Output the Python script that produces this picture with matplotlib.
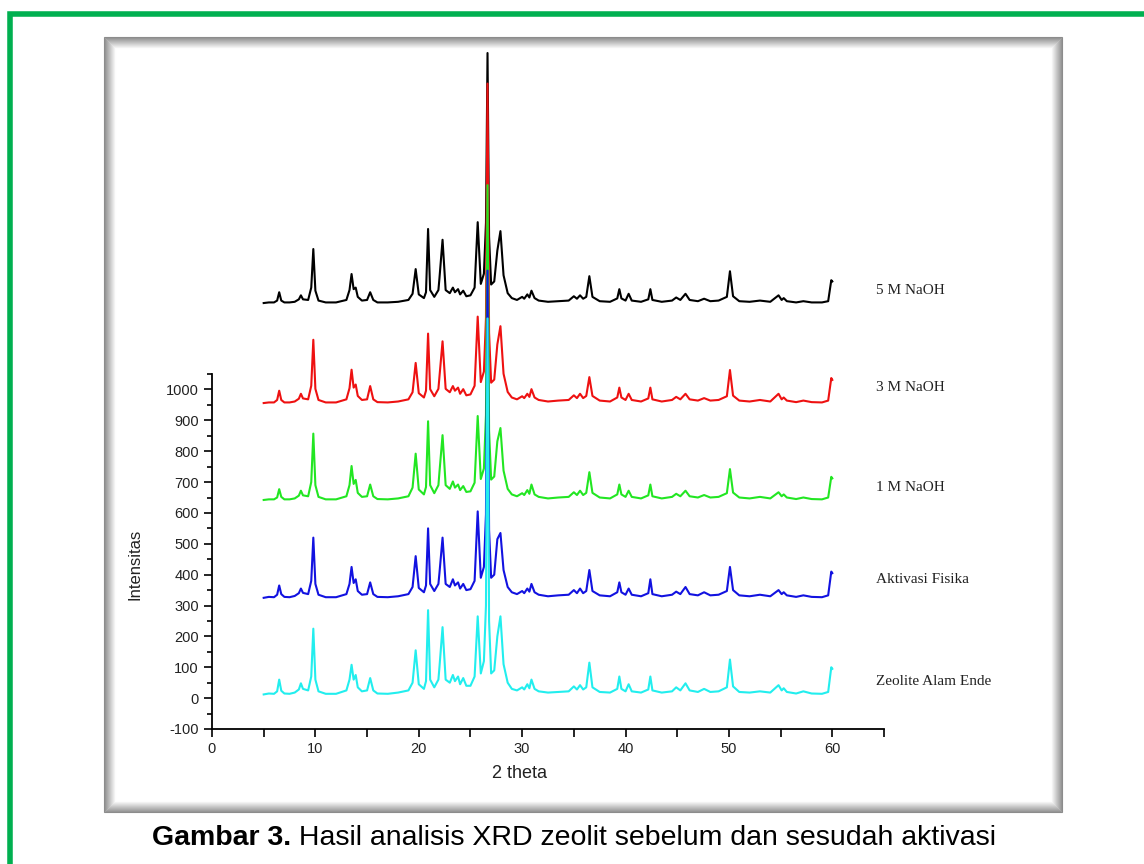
import matplotlib
matplotlib.use('Agg')
import matplotlib.pyplot as plt
from matplotlib.patches import Rectangle
from matplotlib.ticker import FixedLocator

plt.rcParams['axes.unicode_minus'] = False

# 2 theta positions (shared by all patterns)
theta = [5.0, 5.5, 6.0, 6.3, 6.5, 6.7, 7.0, 7.5, 8.0, 8.4,
         8.6, 8.8, 9.3, 9.6, 9.8, 10.0, 10.3, 11.0, 12.0, 13.0,
         13.3, 13.5, 13.7, 13.9, 14.1, 14.5, 15.0, 15.3, 15.6, 16.0,
         17.0, 18.0, 19.0, 19.4, 19.7, 20.0, 20.5, 20.7, 20.9, 21.1,
         21.5, 21.9, 22.0, 22.3, 22.6, 23.0, 23.3, 23.5, 23.8, 24.0,
         24.3, 24.6, 25.0, 25.4, 25.7, 26.0, 26.3, 26.5, 26.65, 26.8,
         27.0, 27.3, 27.6, 27.9, 28.2, 28.6, 29.0, 29.5, 30.0, 30.2,
         30.5, 30.7, 30.9, 31.2, 31.6, 32.5, 33.5, 34.5, 35.0, 35.3,
         35.6, 35.9, 36.2, 36.5, 36.8, 37.5, 38.5, 39.2, 39.4, 39.6,
         40.0, 40.3, 40.6, 41.5, 42.2, 42.4, 42.6, 43.5, 44.5, 44.9,
         45.3, 45.8, 46.2, 47.0, 47.6, 48.2, 49.0, 49.8, 50.1, 50.4,
         51.0, 52.0, 53.0, 54.0, 54.8, 55.1, 55.3, 55.6, 56.5, 57.2,
         58.0, 59.0, 59.6, 59.9, 60.0]

# intensities above each pattern's own baseline
zeolite_alam = [12, 15, 14, 22, 60, 24, 15, 14, 18, 28,
                48, 30, 25, 70, 225, 60, 22, 14, 14, 25,
                60, 108, 60, 75, 35, 22, 25, 65, 25, 15,
                14, 18, 25, 50, 155, 45, 30, 55, 285, 60,
                35, 60, 100, 230, 60, 50, 75, 55, 70, 45,
                65, 40, 40, 70, 265, 80, 120, 300, 1230, 250,
                80, 90, 200, 265, 110, 50, 30, 25, 35, 28,
                45, 32, 60, 30, 22, 18, 20, 22, 38, 28,
                42, 28, 35, 115, 35, 20, 18, 30, 70, 30,
                22, 45, 22, 18, 28, 70, 25, 18, 22, 35,
                25, 48, 25, 20, 30, 20, 22, 35, 125, 38,
                20, 18, 22, 18, 42, 25, 32, 20, 15, 22,
                15, 14, 20, 100, 95]

aktivasi_fisika = [10, 13, 12, 20, 50, 22, 13, 12, 16, 25,
                   40, 26, 22, 65, 205, 55, 20, 12, 12, 22,
                   55, 110, 58, 70, 32, 20, 22, 60, 22, 13,
                   12, 15, 22, 45, 145, 42, 28, 50, 235, 55,
                   32, 55, 90, 205, 55, 45, 70, 50, 60, 40,
                   55, 35, 38, 65, 290, 75, 110, 280, 1070, 230,
                   75, 85, 200, 220, 100, 45, 28, 22, 32, 25,
                   40, 30, 55, 28, 20, 15, 18, 20, 35, 25,
                   40, 25, 32, 100, 32, 18, 15, 28, 60, 28,
                   20, 40, 20, 15, 25, 70, 22, 15, 20, 30,
                   22, 45, 22, 18, 28, 18, 20, 32, 110, 35,
                   18, 15, 20, 15, 35, 22, 28, 18, 13, 18,
                   13, 12, 18, 95, 90]

naoh_1m = [10, 12, 12, 18, 45, 20, 12, 12, 15, 24,
           40, 25, 22, 68, 225, 58, 20, 12, 12, 22,
           58, 120, 62, 75, 33, 20, 22, 60, 22, 13,
           12, 15, 22, 50, 160, 44, 28, 52, 265, 58,
           32, 58, 100, 220, 58, 46, 70, 50, 60, 42,
           55, 36, 38, 66, 282, 78, 112, 285, 1030, 235,
           76, 86, 200, 243, 105, 46, 28, 22, 32, 26,
           42, 30, 60, 28, 20, 15, 18, 20, 35, 26,
           40, 26, 33, 100, 33, 18, 15, 28, 60, 28,
           20, 40, 20, 15, 25, 60, 22, 15, 20, 30,
           22, 40, 22, 18, 26, 18, 20, 32, 110, 34,
           18, 15, 20, 15, 35, 22, 28, 18, 13, 18,
           13, 12, 18, 85, 80]

naoh_3m = [10, 12, 12, 20, 50, 20, 12, 12, 15, 24,
           40, 25, 22, 66, 215, 56, 20, 12, 12, 22,
           58, 118, 60, 70, 33, 20, 22, 65, 22, 13,
           12, 15, 22, 45, 140, 42, 28, 50, 235, 55,
           32, 56, 95, 210, 56, 45, 65, 50, 60, 40,
           55, 35, 38, 66, 290, 78, 112, 285, 1045, 238,
           76, 86, 200, 259, 105, 46, 28, 22, 32, 26,
           40, 30, 55, 28, 20, 15, 18, 20, 35, 26,
           40, 26, 33, 94, 33, 18, 15, 28, 60, 28,
           20, 40, 20, 15, 25, 60, 22, 15, 20, 30,
           22, 40, 22, 18, 26, 18, 20, 32, 117, 34,
           18, 15, 20, 15, 40, 22, 28, 18, 13, 18,
           13, 12, 18, 91, 85]

naoh_5m = [10, 12, 12, 18, 45, 18, 12, 12, 14, 22,
           35, 22, 20, 60, 185, 50, 18, 12, 12, 20,
           52, 104, 55, 60, 30, 18, 20, 45, 20, 12,
           12, 14, 20, 40, 120, 38, 26, 45, 250, 52,
           30, 52, 90, 215, 52, 42, 60, 45, 55, 38,
           50, 32, 35, 60, 272, 72, 105, 270, 820, 225,
           70, 80, 180, 243, 100, 42, 26, 20, 30, 24,
           38, 28, 50, 26, 18, 14, 16, 18, 32, 24,
           35, 24, 30, 97, 30, 16, 14, 25, 55, 25,
           18, 40, 18, 14, 22, 55, 20, 14, 18, 28,
           20, 40, 20, 16, 24, 16, 18, 30, 113, 32,
           16, 14, 18, 14, 35, 20, 26, 16, 12, 16,
           12, 12, 16, 84, 80]

# drawn from top pattern to bottom one, so the lowest ends up on top
patterns = [naoh_5m, naoh_3m, naoh_1m, aktivasi_fisika, zeolite_alam]
offsets = [1270, 946, 632, 315, 0]
names = ['5 M NaOH', '3 M NaOH', '1 M NaOH', 'Aktivasi Fisika', 'Zeolite Alam Ende']
label_y = [1320, 1006, 683, 385, 55]
colors = ['#000000', '#ee1111', '#22e622', '#1212e0', '#22eeee']

W, H = 1144, 864
fig = plt.figure(figsize=(W / 100, H / 100), dpi=100)


def fx(px):
    return px / W


def fy(py):
    return 1 - py / H


# green frame of the page
fig.patches.append(Rectangle((fx(10), fy(W)), fx(W + 50), fy(14) - fy(W),
                             transform=fig.transFigure, fill=False,
                             edgecolor='#00b050', linewidth=4, zorder=0))

# grey shadowed box around the chart image
x0, y0, x1, y1 = 104, 37, 1062, 812
for i in range(12):
    g = min(0.55 + 0.04 * i, 1.0)
    fig.patches.append(Rectangle((fx(x0 + i), fy(y1 - i)), fx(x1 - x0 - 2 * i), fy(y0 + i) - fy(y1 - i),
                                 transform=fig.transFigure, fill=False,
                                 edgecolor=(g, g, g), linewidth=0.8, zorder=0))

ax = fig.add_axes([fx(212), fy(729), fx(884) - fx(212), fy(45) - fy(729)])
ax.patch.set_alpha(0)

for i, (vals, off, col) in enumerate(zip(patterns, offsets, colors)):
    ax.plot(theta, [v + off for v in vals], color=col, lw=1.5, zorder=2 + i, clip_on=False)

for name, yv in zip(names, label_y):
    ax.text(64.2, yv, name, fontsize=11, family='Liberation Serif', color='#222222',
            va='center', ha='left')

ax.set_xlim(0, 65)
ax.set_ylim(-100, 2116)
ax.spines['top'].set_visible(False)
ax.spines['right'].set_visible(False)
ax.spines['left'].set_bounds(-100, 1050)
for s in ['left', 'bottom']:
    ax.spines[s].set_linewidth(1.3)

ax.set_yticks(range(-100, 1001, 100))
ax.yaxis.set_minor_locator(FixedLocator(range(-50, 1051, 100)))
ax.set_xticks(range(0, 61, 10))
ax.xaxis.set_minor_locator(FixedLocator([5, 15, 25, 35, 45, 55, 65]))
ax.tick_params(which='major', direction='out', length=6, width=1.2, labelsize=10.5,
               labelcolor='#222222')
ax.tick_params(which='minor', direction='out', length=3.5, width=1.2)
ax.tick_params(axis='x', which='minor', length=6)
for lab in ax.get_xticklabels() + ax.get_yticklabels():
    lab.set_family('Liberation Sans')

ax.set_xlabel('2 theta', fontsize=13, family='Liberation Sans', color='#222222')
ax.set_ylabel('Intensitas', fontsize=12, family='Liberation Sans', color='#222222')
ax.xaxis.set_label_coords(0.457, -0.052)
ax.yaxis.set_label_coords(-0.103, 0.241)

# caption: bold part + normal part, centred under the box
t1 = fig.text(0, fy(838), 'Gambar 3.', fontsize=20.5, weight='bold',
              family='Liberation Sans', va='center')
t2 = fig.text(0, fy(838), ' Hasil analisis XRD zeolit sebelum dan sesudah aktivasi',
              fontsize=20.5, family='Liberation Sans', va='center')
fig.canvas.draw()
r = fig.canvas.get_renderer()
w1 = t1.get_window_extent(r).width
w2 = t2.get_window_extent(r).width
start = 574 - (w1 + w2) / 2
t1.set_x(fx(start))
t2.set_x(fx(start + w1))

fig.savefig('out.png', dpi=100)
